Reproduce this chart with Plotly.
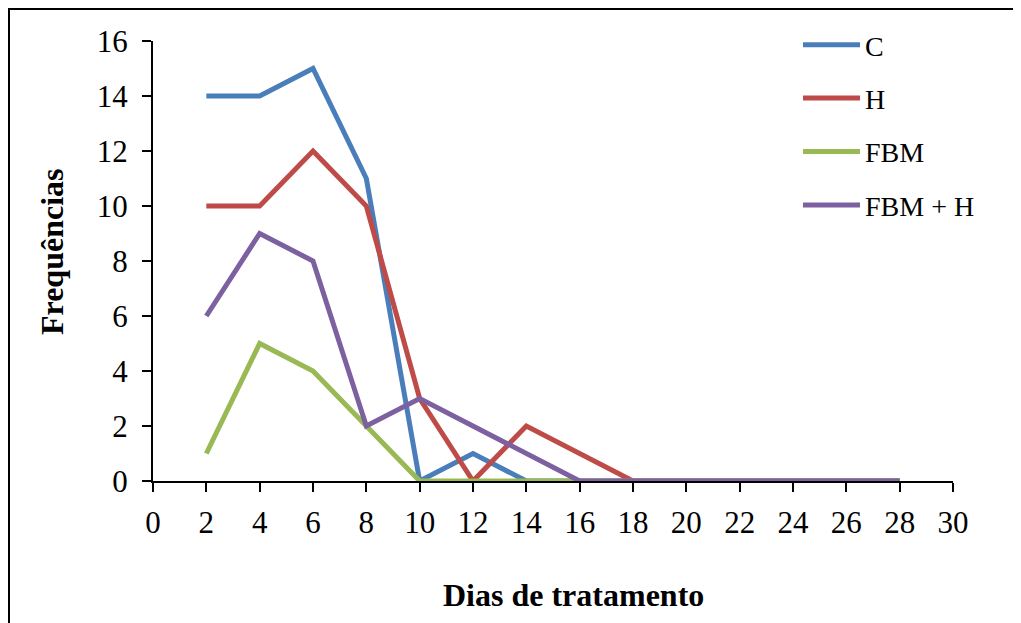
import plotly.graph_objects as go

dias = [2, 4, 6, 8, 10, 12, 14, 16, 18, 20, 22, 24, 26, 28]
serie_c = [14, 14, 15, 11, 0, 1, 0, 0, 0, 0, 0, 0, 0, 0]
serie_h = [10, 10, 12, 10, 3, 0, 2, 1, 0, 0, 0, 0, 0, 0]
serie_fbm = [1, 5, 4, 2, 0, 0, 0, 0, 0, 0, 0, 0, 0, 0]
serie_fbm_h = [6, 9, 8, 2, 3, 2, 1, 0, 0, 0, 0, 0, 0, 0]
nomes = ["C", "H", "FBM", "FBM + H"]
cores = ["#4A7EBB", "#BE4B48", "#98B954", "#7D60A0"]

OFF = 8  # page body margin
W, H = 1021 - OFF, 623 - OFF
L, R, T, B = 153 - OFF, 68, 41 - OFF, 142
pw, ph = W - L - R, H - T - B

def px(x):
    return (x - OFF - L) / pw

def py(y):
    return (H - B - (y - OFF)) / ph

fig = go.Figure()
for nome, ys, cor in zip(nomes, [serie_c, serie_h, serie_fbm, serie_fbm_h], cores):
    fig.add_trace(go.Scatter(x=dias, y=ys, name=nome, mode="lines",
                             line=dict(color=cor, width=5), legendgroup=nome))

fig.update_layout(
    width=W, height=H,
    margin=dict(l=L, r=R, t=T, b=B),
    paper_bgcolor="white", plot_bgcolor="white",
    font=dict(family="Liberation Serif, Times New Roman, serif", color="black", size=30),
    showlegend=True,
    legend=dict(x=px(798), y=py(20), xanchor="left", yanchor="top",
                font=dict(size=28), itemwidth=57, tracegroupgap=14,
                bgcolor="rgba(0,0,0,0)"),
    xaxis=dict(range=[0, 30], tickmode="array", tickvals=list(range(0, 31, 2)),
               ticks="outside", ticklen=9, tickwidth=2, tickcolor="black",
               showline=True, linecolor="black", linewidth=2, showgrid=False,
               zeroline=False, tickfont=dict(size=31), ticklabelstandoff=4),
    yaxis=dict(range=[0, 16], tickmode="array", tickvals=list(range(0, 17, 2)),
               ticks="outside", ticklen=9, tickwidth=2, tickcolor="black",
               showline=True, linecolor="black", linewidth=2, showgrid=False,
               zeroline=False, tickfont=dict(size=31), ticklabelstandoff=8),
    annotations=[
        dict(text="<b>Dias de tratamento</b>", x=px(573), y=py(595), xref="paper", yref="paper",
             showarrow=False, font=dict(size=32), xanchor="center", yanchor="middle"),
        dict(text="<b>Frequências</b>", x=px(52), y=py(252), xref="paper", yref="paper",
             showarrow=False, font=dict(size=32), textangle=-90, xanchor="center", yanchor="middle"),
    ],
    shapes=[
        dict(type="rect", xref="paper", yref="paper", x0=px(9), y0=py(680), x1=px(1080), y1=py(9),
             line=dict(color="black", width=2), fillcolor="rgba(0,0,0,0)", layer="below"),
    ],
)

fig.write_html("out.html")
